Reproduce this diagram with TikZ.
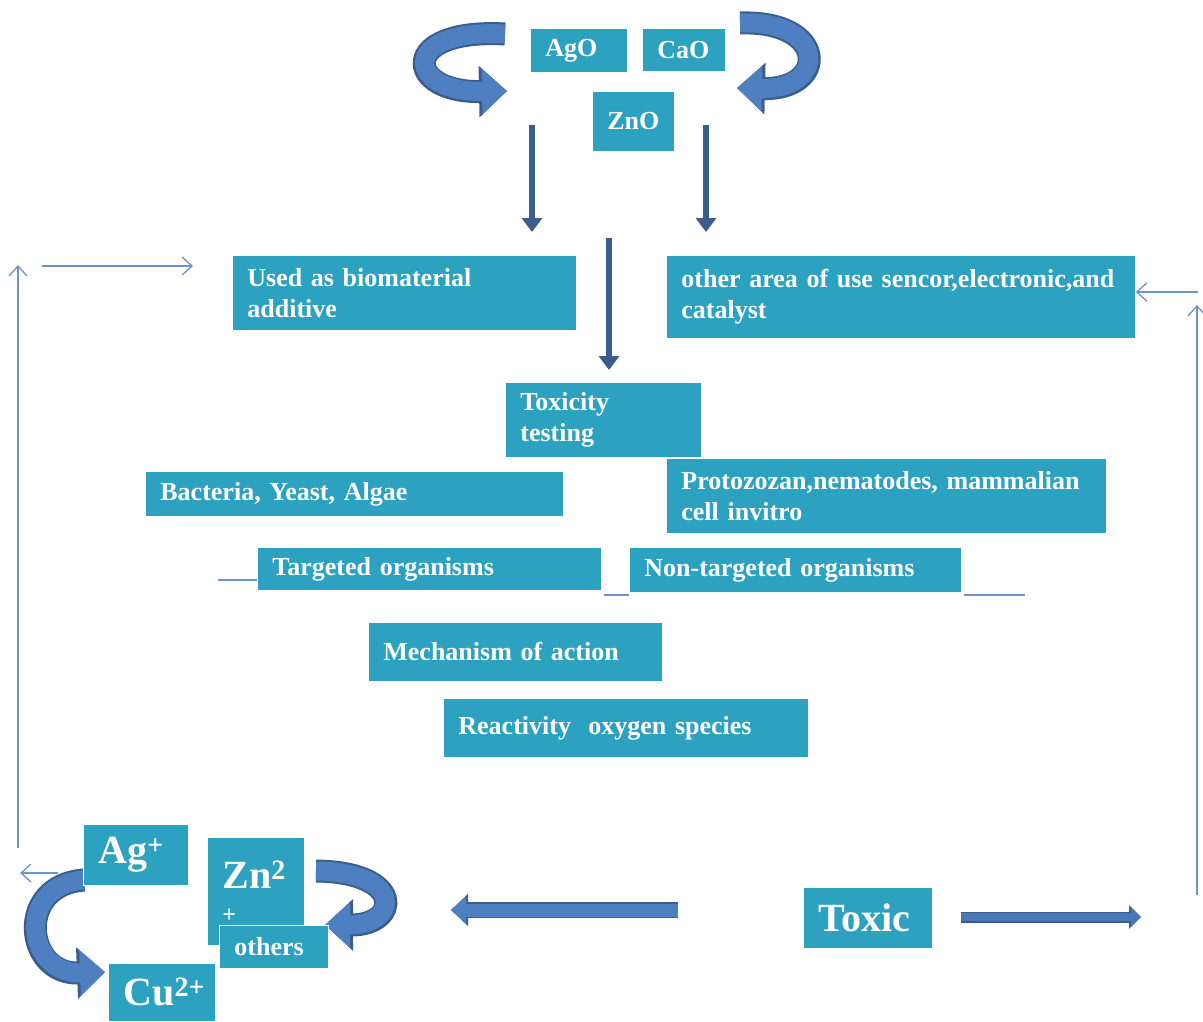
\documentclass[tikz,border=0pt]{standalone}
\usepackage{fontspec}
\setmainfont{Liberation Serif}
\usetikzlibrary{arrows.meta}

\definecolor{boxteal}{HTML}{2DA1C0}
\definecolor{arrowdark}{HTML}{3B5D8C}
\definecolor{arrowmid}{HTML}{4E7FC0}
\definecolor{thinblue}{HTML}{6F91CC}

\begin{document}
\begin{tikzpicture}[x=1pt,y=-1pt,
  mybox/.style={fill=boxteal,draw=white,line width=0.8pt,text=white,anchor=north west,align=left,
    inner xsep=15pt,inner ysep=0pt,font=\bfseries\fontsize{26}{31}\selectfont},
  ionbox/.style={mybox,font=\bfseries\fontsize{40}{44}\selectfont},
  darrow/.style={draw=arrowdark,line width=6pt,-{Triangle[width=20pt,length=14pt]}},
  thinarrow/.style={draw=thinblue,line width=1.3pt,-{Straight Barb[length=10pt,width=18pt]}},
  thinline/.style={draw=thinblue,line width=1.3pt},
  bendarrow/.style={draw=arrowmid,line width=19pt,-{Triangle[width=44pt,length=25pt]},
    preaction={draw=arrowdark,line width=23pt,-{Triangle[width=50pt,length=28pt]}}},
  blockarrow/.style={draw=arrowmid,line width=13pt,-{Triangle[width=27pt,length=15pt]},
    preaction={draw=arrowdark,line width=16pt,-{Triangle[width=31pt,length=17pt]}}},
  slimarrow/.style={draw=arrowmid!80!arrowdark,line width=8pt,-{Triangle[width=19pt,length=10pt]},
    preaction={draw=arrowdark,line width=11pt,-{Triangle[width=23pt,length=12pt]}}}]
\useasboundingbox (0,0) rectangle (1203,1021);

% curved arrows round the oxides and the ions
\draw[bendarrow] (505,34) .. controls (398,28) and (405,93) .. (507,91);
\draw[bendarrow] (740,23) .. controls (828,20) and (828,90) .. (737,88);
\draw[bendarrow] (84,880) .. controls (15,885) and (25,975) .. (105,972);
\draw[bendarrow] (316,871) .. controls (405,872) and (400,925) .. (325,925);

% oxides
\node[mybox,text width=67pt,minimum height=44pt] (ago) at (530,28) {AgO};
\node[mybox,text width=53pt,minimum height=43pt] (cao) at (642,28) {CaO};
\node[mybox,text width=52pt,minimum height=60pt] (zno) at (592,91) {ZnO};

% uses and testing
\node[mybox,text width=314pt,minimum height=75pt] (bio) at (232,255) {Used as biomaterial\\additive};
\node[mybox,text width=439pt,minimum height=83pt] (other) at (666,255) {other area of use sencor,electronic,and\\catalyst};
\node[mybox,text width=166pt,minimum height=75pt] (tox) at (505,382) {Toxicity\\testing};
\node[mybox,text width=388pt,minimum height=45pt] (bya) at (145,471) {Bacteria, Yeast, Algae};
\node[mybox,text width=410pt,minimum height=75pt] (proto) at (666,458) {Protozozan,nematodes, mammalian\\cell invitro};
\node[mybox,text width=314pt,minimum height=43pt] (targ) at (257,547) {Targeted organisms};
\node[mybox,text width=302pt,minimum height=45pt] (nontarg) at (629,547) {Non-targeted organisms};
\node[mybox,text width=264pt,minimum height=59pt] (mech) at (368,622) {Mechanism of action};
\node[mybox,text width=335pt,minimum height=59pt] (ros) at (443,698) {Reactivity \ oxygen species};

% ions
\node[ionbox,text width=75pt,minimum height=61pt] (agion) at (83,824) {Ag\textsuperscript{+}};
\node[ionbox,text width=67pt,minimum height=108pt] (znion) at (207,837)
  {Zn\textsuperscript{2}\\[-10pt]{\fontsize{24}{24}\selectfont +}};
\node[mybox,text width=79pt,minimum height=43pt] (others) at (219,925) {others};
\node[ionbox,text width=77pt,minimum height=58pt] (cuion) at (108,963) {Cu\textsuperscript{2+}};
\node[ionbox,text width=99pt,minimum height=61pt] (toxic) at (803,887) {Toxic};

% straight arrows
\foreach \nm/\xx/\ya/\yb in {a/532/125/232, b/706/125/232, c/609/238/370}
  {\coordinate (s\nm) at (\xx,\ya);
   \coordinate (e\nm) at (\xx,\yb);
   \draw[darrow] (s\nm) -- (e\nm);}

\coordinate (lb) at (678,910);
\coordinate (le) at (451,910);
\draw[blockarrow] (lb) -- (le);
\coordinate (rb) at (961,917);
\coordinate (re) at (1141,917);
\draw[slimarrow] (rb) -- (re);

% thin feedback arrows
\coordinate (l1) at (18,848);
\coordinate (l2) at (18,265);
\draw[thinarrow] (l1) -- (l2);
\coordinate (l3) at (42,266);
\coordinate (l4) at (193,266);
\draw[thinarrow] (l3) -- (l4);
\coordinate (l5) at (58,873);
\coordinate (l6) at (20,873);
\draw[thinarrow] (l5) -- (l6);
\coordinate (r1) at (1197,895);
\coordinate (r2) at (1197,305);
\draw[thinarrow] (r1) -- (r2);
\coordinate (r3) at (1198,292);
\draw[thinarrow] (r3) -- (other.east |- r3);

% short strokes by the organism boxes
\coordinate (u1) at (218,580);
\draw[thinline] (u1) -- (targ.west |- u1);
\coordinate (u2) at (604,595);
\draw[thinline] (u2) -- (nontarg.west |- u2);
\coordinate (u3) at (964,595);
\coordinate (u4) at (1025,595);
\draw[thinline] (u3) -- (u4);
\end{tikzpicture}
\end{document}
